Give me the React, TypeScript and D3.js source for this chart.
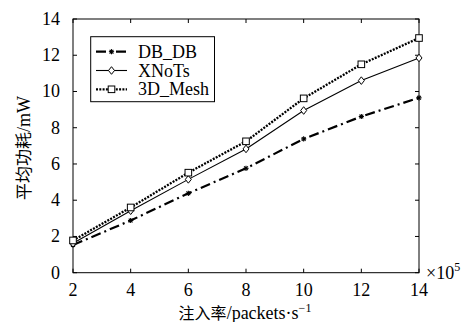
import React from "react";
import * as d3 from "d3";

const xValues = [2, 4, 6, 8, 10, 12, 14];
const dbdb = [1.53, 2.88, 4.38, 5.76, 7.38, 8.62, 9.65];
const xnots = [1.62, 3.42, 5.15, 6.83, 8.95, 10.6, 11.85];
const mesh = [1.78, 3.6, 5.52, 7.25, 9.62, 11.5, 12.95];
const seriesNames = ["DB_DB", "XNoTs", "3D_Mesh"];
const xTicks = [2, 4, 6, 8, 10, 12, 14];
const yTicks = [0, 2, 4, 6, 8, 10, 12, 14];

const W = 465, H = 322;
const L = 73, R = 419, T = 19, B = 272.7;
const serif = { fontFamily: "Liberation Serif" };
const cjk = { fontFamily: "Noto Sans CJK SC" };
const FS = 18;

export default function App() {
  const x = d3.scaleLinear().domain([2, 14]).range([L, R]);
  const y = d3.scaleLinear().domain([0, 14]).range([B, T]);
  const line = d3.line<number>().x((_, i) => x(xValues[i])).y((d) => y(d));
  const tl = 4;

  const star = (cx: number, cy: number, k: string) => (
    <g key={k} stroke="#000" strokeWidth={1.1}>
      <line x1={cx - 2.6} y1={cy} x2={cx + 2.6} y2={cy} />
      <line x1={cx} y1={cy - 2.6} x2={cx} y2={cy + 2.6} />
      <line x1={cx - 1.9} y1={cy - 1.9} x2={cx + 1.9} y2={cy + 1.9} />
      <line x1={cx - 1.9} y1={cy + 1.9} x2={cx + 1.9} y2={cy - 1.9} />
    </g>
  );
  const diamond = (cx: number, cy: number, k: string) => (
    <path key={k} d={`M${cx},${cy - 3.8}L${cx + 3},${cy}L${cx},${cy + 3.8}L${cx - 3},${cy}Z`} fill="#fff" stroke="#000" strokeWidth={1} />
  );
  const square = (cx: number, cy: number, k: string) => (
    <rect key={k} x={cx - 3.3} y={cy - 3.3} width={6.6} height={6.6} fill="#fff" stroke="#000" strokeWidth={1} />
  );

  const series = [
    { name: seriesNames[0], data: dbdb, dash: "10,4,2,4", width: 2.2, marker: star },
    { name: seriesNames[1], data: xnots, dash: "", width: 1.1, marker: diamond },
    { name: seriesNames[2], data: mesh, dash: "2,1.3", width: 2.3, marker: square },
  ];

  return (
    <svg width={W} height={H} style={{ position: "absolute", left: 0, top: 0, background: "#fff" }}>
      <rect x={0} y={0} width={W} height={H} fill="#fff" />
      {xTicks.map((t) => (
        <g key={"xt" + t}>
          <line x1={x(t)} x2={x(t)} y1={B} y2={B - tl} stroke="#000" />
          <line x1={x(t)} x2={x(t)} y1={T} y2={T + tl} stroke="#000" />
          <text x={x(t)} y={295.5} textAnchor="middle" style={serif} fontSize={FS}>{t}</text>
        </g>
      ))}
      {yTicks.map((t) => (
        <g key={"yt" + t}>
          <line x1={L} x2={L + tl} y1={y(t)} y2={y(t)} stroke="#000" />
          <line x1={R} x2={R - tl} y1={y(t)} y2={y(t)} stroke="#000" />
          <text x={60} y={y(t) + 6} textAnchor="end" style={serif} fontSize={FS}>{t}</text>
        </g>
      ))}
      <rect x={L} y={T} width={R - L} height={B - T} fill="none" stroke="#000" strokeWidth={1} />
      {series.map((s) => (
        <g key={s.name}>
          <path d={line(s.data) || ""} fill="none" stroke="#000" strokeWidth={s.width} strokeDasharray={s.dash || undefined} />
          {s.data.map((v, i) => s.marker(x(xValues[i]), y(v), s.name + i))}
        </g>
      ))}
      <rect x={90.7} y={36.7} width={123.8} height={65} fill="#fff" stroke="#000" strokeWidth={1} />
      {series.map((s, i) => {
        const ly = 51.7 + i * 18.8;
        return (
          <g key={"lg" + s.name}>
            <line x1={96} x2={127} y1={ly} y2={ly} stroke="#000" strokeWidth={s.width} strokeDasharray={s.dash || undefined} />
            {s.marker(111.5, ly, "lm" + i)}
            <text x={138} y={ly + 6} style={serif} fontSize={FS}>{s.name}</text>
          </g>
        );
      })}
      <text x={426} y={279} style={serif} fontSize={FS}>×10<tspan dy={-8} fontSize={12}>5</tspan></text>
      <text x={245} y={318.5} textAnchor="middle" fontSize={FS}>
        <tspan style={cjk} fontSize={16}>注入率</tspan>
        <tspan style={serif}>/packets·s</tspan>
        <tspan style={serif} fontSize={12} dy={-7}>−1</tspan>
      </text>
      <text transform={`translate(30,148) rotate(-90)`} textAnchor="middle" fontSize={FS}>
        <tspan style={cjk} fontSize={17}>平均功耗</tspan>
        <tspan style={serif}>/mW</tspan>
      </text>
    </svg>
  );
}
